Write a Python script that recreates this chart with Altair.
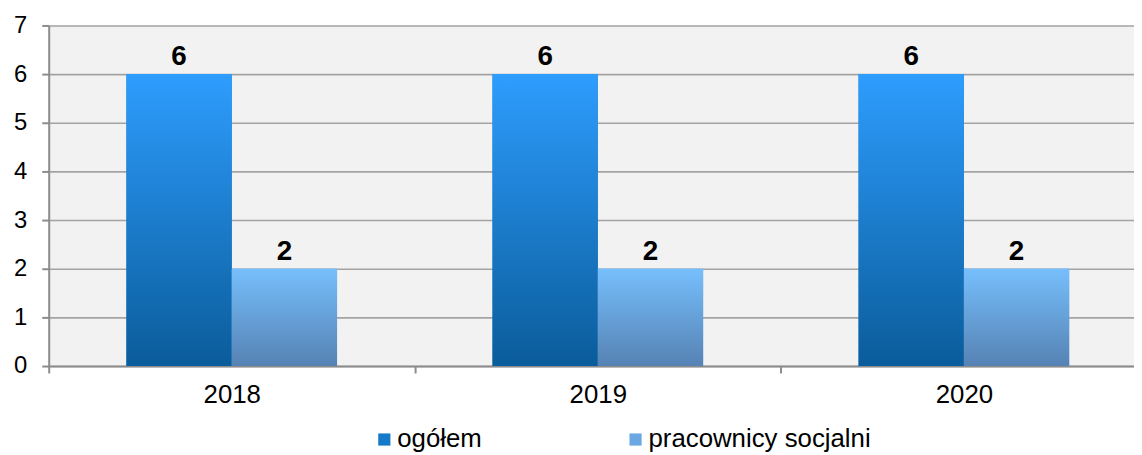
import altair as alt
import pandas as pd

years = ["2018", "2019", "2020"]
series = ["ogółem", "pracownicy socjalni"]
ogolem = [6, 6, 6]
pracownicy = [2, 2, 2]

rows = []
for i, y in enumerate(years):
    rows.append({"rok": y, "seria": series[0], "wartosc": ogolem[i]})
    rows.append({"rok": y, "seria": series[1], "wartosc": pracownicy[i]})
df = pd.DataFrame(rows)

FONT = "Liberation Sans"
AX = "#8c8c8c"

base = alt.Chart(df).encode(
    x=alt.X(
        "rok:N",
        sort=years,
        scale=alt.Scale(paddingInner=0, paddingOuter=0),
        axis=alt.Axis(
            title=None, labelAngle=0, tickBand="extent", grid=False,
            tickSize=7, tickColor=AX, tickWidth=2, domainColor=AX, domainWidth=2,
            labelFontSize=26, labelPadding=9, labelFont=FONT, labelColor="#000000",
        ),
    ),
    xOffset=alt.XOffset("seria:N", scale=alt.Scale(domain=series, paddingInner=0, paddingOuter=0.738)),
    y=alt.Y(
        "wartosc:Q",
        scale=alt.Scale(domain=[0, 7], nice=False),
        axis=alt.Axis(
            title=None, values=list(range(8)), format="d",
            tickSize=7, tickColor=AX, tickWidth=2, domainColor=AX, domainWidth=2,
            gridColor="#a3a3a3", gridWidth=1.6,
            labelFontSize=24, labelPadding=15, labelFont=FONT, labelColor="#000000",
        ),
    ),
)

legend_bars = base.mark_bar().encode(
    color=alt.Color(
        "seria:N",
        scale=alt.Scale(domain=series, range=["#1479c8", "#6aa7e3"]),
        legend=alt.Legend(
            title=None, orient="none", legendX=325, legendY=404, direction="horizontal",
            symbolType="square", symbolSize=150, symbolStrokeWidth=0, symbolOpacity=1,
            labelFontSize=26, labelFont=FONT, labelColor="#000000", labelOffset=0,
            labelLimit=400, columnPadding=141, gridAlign="each", padding=0,
        ),
    )
)

grad_o = {"gradient": "linear", "x1": 0, "y1": 0, "x2": 0, "y2": 1,
          "stops": [{"offset": 0, "color": "#2e9dfe"}, {"offset": 1, "color": "#0a5c9a"}]}
grad_p = {"gradient": "linear", "x1": 0, "y1": 0, "x2": 0, "y2": 1,
          "stops": [{"offset": 0, "color": "#76bffc"}, {"offset": 1, "color": "#5682b4"}]}

bars_o = base.transform_filter(alt.datum.seria == series[0]).mark_bar(color=grad_o)
bars_p = base.transform_filter(alt.datum.seria == series[1]).mark_bar(color=grad_p)

labels = base.mark_text(
    dy=-9, baseline="alphabetic", fontSize=28, fontWeight="bold", font=FONT, color="#000000"
).encode(text="wartosc:Q")

chart = alt.layer(legend_bars, bars_o, bars_p, labels).properties(
    width=1106, height=343,
    autosize=alt.AutoSizeParams(type="none"),
    padding={"left": 41, "top": 16, "right": -13, "bottom": 86},
    background="#ffffff",
).configure_view(fill="#f2f2f2", stroke=None)

chart.save("out.html", embed_options={"renderer": "svg", "actions": False})
